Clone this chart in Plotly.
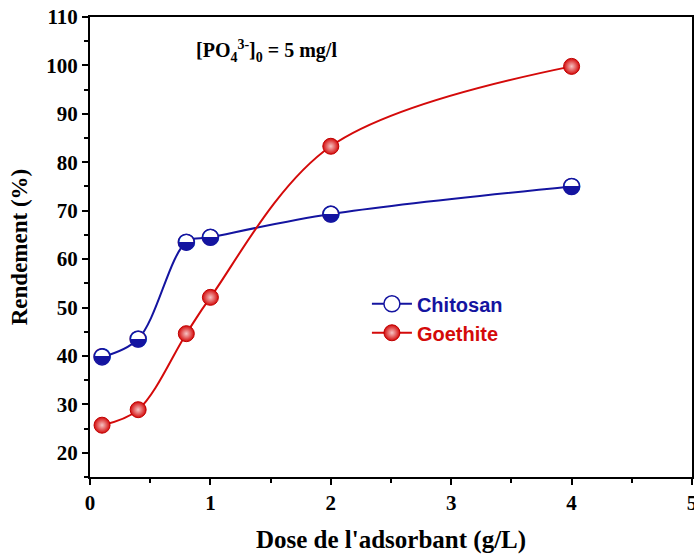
import plotly.graph_objects as go

dose = [0.1, 0.4, 0.8, 1.0, 2.0, 4.0]
chitosan = [39.8, 43.5, 63.5, 64.5, 69.3, 75.0]
goethite = [25.7, 28.9, 44.6, 52.1, 83.3, 99.8]

x_ticks = [0, 1, 2, 3, 4, 5]
y_ticks = [20, 30, 40, 50, 60, 70, 80, 90, 100, 110]

BLUE = "#1414a0"
RED = "#d40a0a"
serif = "Liberation Serif"

fig = go.Figure()

fig.add_trace(go.Scatter(
    x=dose, y=chitosan, mode="lines+markers",
    name="<span style='color:%s'><b>Chitosan</b></span>" % BLUE,
    line=dict(color=BLUE, width=2, shape="spline", smoothing=1.0),
    marker=dict(symbol="circle", size=16, color="white", line=dict(color=BLUE, width=1.5)),
))
fig.add_trace(go.Scatter(
    x=dose, y=chitosan, mode="text", text=["◒"] * len(dose),
    textfont=dict(family="DejaVu Sans", size=22, color=BLUE),
    textposition="middle center", showlegend=False, hoverinfo="skip",
))
fig.add_trace(go.Scatter(
    x=dose, y=goethite, mode="lines+markers",
    name="<span style='color:%s'><b>Goethite</b></span>" % RED,
    line=dict(color=RED, width=2, shape="spline", smoothing=1.0),
    marker=dict(symbol="circle", size=16, color=RED,
                gradient=dict(type="radial", color="#f6c4c4"),
                line=dict(color="#c00000", width=1)),
))

fig.add_annotation(
    x=0.173, y=0.925, xref="paper", yref="paper", xanchor="left", yanchor="middle",
    text="<b>[PO<sub>4</sub><sup>3-</sup>]<sub>0</sub> = 5 mg/l</b>", showarrow=False,
    font=dict(family=serif, size=20, color="black"),
)

axis_common = dict(
    showline=True, linecolor="black", linewidth=2, mirror=True,
    ticks="outside", ticklen=6, tickwidth=2, tickcolor="black",
    showgrid=False, zeroline=False, automargin=False,
    tickfont=dict(family=serif, size=21, color="black"),
)

fig.update_xaxes(
    range=[0, 5], tickvals=x_ticks, ticktext=["<b>%d</b>" % v for v in x_ticks],
    ticklabeloverflow="allow",
    title_text="<b>Dose de l'adsorbant (g/L)</b>", title_standoff=18,
    title_font=dict(family=serif, size=25, color="black"),
    minor=dict(dtick=0.5, tick0=0, ticks="outside", ticklen=4, tickwidth=2, tickcolor="black"),
    **axis_common,
)
fig.update_yaxes(
    range=[15, 110], tickvals=y_ticks, ticktext=["<b>%d</b>" % v for v in y_ticks],
    title_text="<b>Rendement (%)</b>", title_standoff=12,
    title_font=dict(family=serif, size=23, color="black"),
    minor=dict(dtick=5, tick0=0, ticks="outside", ticklen=4, tickwidth=2, tickcolor="black"),
    **axis_common,
)

fig.update_layout(
    width=694, height=554,
    margin=dict(l=90, r=2, t=17, b=77),
    plot_bgcolor="white", paper_bgcolor="white",
    legend=dict(x=0.46, y=0.419, xanchor="left", yanchor="top",
                bgcolor="rgba(0,0,0,0)", borderwidth=0,
                font=dict(family="Liberation Sans", size=20),
                itemwidth=40, tracegroupgap=0),
)

fig.write_html("out.html")
